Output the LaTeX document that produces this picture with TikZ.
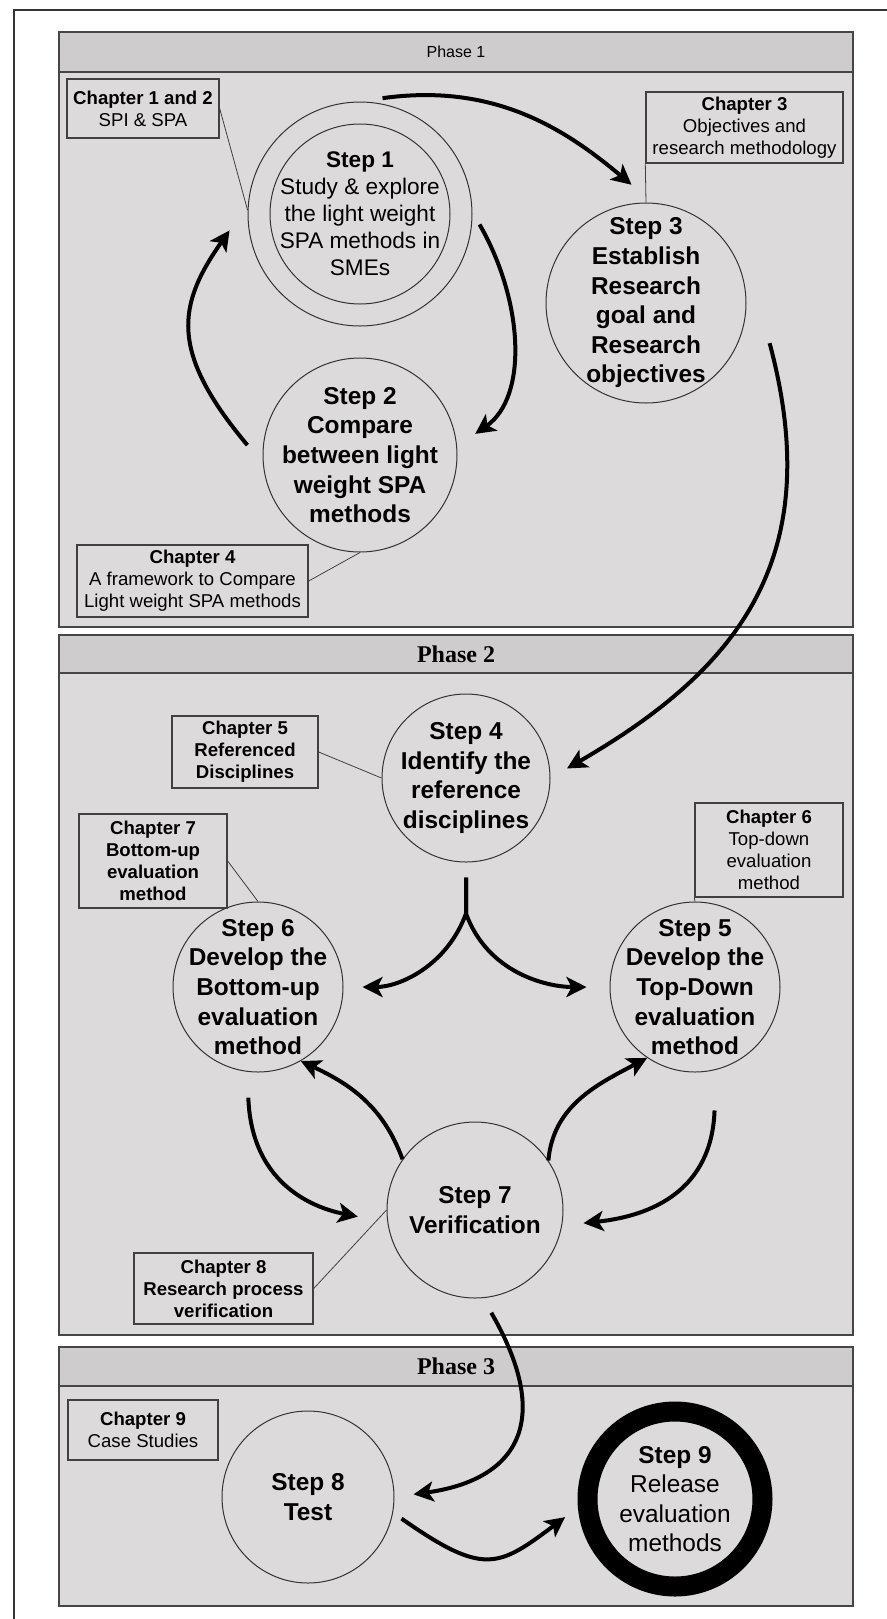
\documentclass[tikz,border=0pt]{standalone}
\usepackage{fontspec}
\setmainfont{Liberation Sans}
\newfontfamily\phasefont{Liberation Serif}
\usepackage{tikz}
\usetikzlibrary{calc,arrows.meta}
\definecolor{panelgray}{RGB}{221,218,219}
\definecolor{headgray}{RGB}{207,204,205}
\definecolor{rimgray}{RGB}{70,70,70}
\tikzstyle{stepnode}=[draw=black!80,circle,line width=0.5pt,inner sep=0pt]
\tikzstyle{steptext}=[align=center,inner sep=0pt,font=\fontsize{12.2}{14.8}\selectfont\bfseries]
\tikzstyle{chapbox}=[draw=black!75,line width=0.7pt,align=center,inner sep=1pt,font=\fontsize{9.3}{11}\selectfont]
\tikzstyle{leader}=[draw=black!75,line width=0.4pt]
\tikzstyle{flow}=[line width=2pt,-{Stealth[length=10pt,width=10pt,inset=2.5pt]}]
\tikzstyle{panel}=[fill=panelgray,draw=rimgray,line width=0.8pt]
\tikzstyle{header}=[fill=headgray,draw=rimgray,line width=0.8pt]

\begin{document}
\begin{tikzpicture}[x=0.5pt,y=0.5pt]
\useasboundingbox (0,0) rectangle (887,-1619);
\fill[white] (0,0) rectangle (887,-1619);
\draw[line width=1pt,black!80] (14,-1619) -- (14,-10) -- (887,-10);
\draw[panel] (59,-32) rectangle (853,-627);
\draw[header] (59,-32) rectangle (853,-72);
\draw[panel] (59,-635) rectangle (853,-1335);
\draw[header] (59,-635) rectangle (853,-673);
\draw[panel] (59,-1347) rectangle (853,-1606);
\draw[header] (59,-1347) rectangle (853,-1386);
\draw (456,-52) node [font=\fontsize{8}{9}\selectfont] (ph1) {Phase 1};
\draw (456,-654) node [font=\phasefont\bfseries\fontsize{12}{14}\selectfont] (ph2) {Phase 2};
\draw (456,-1366) node [font=\phasefont\bfseries\fontsize{12}{14}\selectfont] (ph3) {Phase 3};
\draw (360,-214) node [stepnode,minimum size=112pt] (s1) {};
\draw (s1) node [stepnode,minimum size=90pt] (s1in) {};
\draw (360,-455) node [stepnode,minimum size=97pt] (s2) {};
\draw (646,-303) node [stepnode,minimum size=100pt] (s3) {};
\draw (466,-778) node [stepnode,minimum size=84pt] (s4) {};
\draw (695,-987) node [stepnode,minimum size=85pt] (s5) {};
\draw (258,-987) node [stepnode,minimum size=85pt] (s6) {};
\draw (475,-1210) node [stepnode,minimum size=88pt] (s7) {};
\draw (308,-1497) node [stepnode,minimum size=86pt] (s8) {};
\draw (675,-1499) node [stepnode,draw=black,line width=10pt,minimum size=87.5pt] (s9) {};
\draw (s1) node [steptext,font=\fontsize{11.3}{13.5}\selectfont] (t1) {\textbf{Step 1}\\Study \& explore\\the light weight\\SPA methods in\\SMEs};
\draw (s2) node [steptext] (t2) {Step 2\\Compare\\between light\\weight SPA\\methods};
\draw (s3) node [steptext] (t3) {Step 3\\Establish\\Research\\goal and\\Research\\objectives};
\draw (s4) node [steptext] (t4) {Step 4\\Identify the\\reference\\disciplines};
\draw (s5) node [steptext] (t5) {Step 5\\Develop the\\Top-Down\\evaluation\\method};
\draw (s6) node [steptext] (t6) {Step 6\\Develop the\\Bottom-up\\evaluation\\method};
\draw (s7) node [steptext] (t7) {Step 7\\Verification};
\draw (s8) node [steptext] (t8) {Step 8\\Test};
\draw (s9) node [steptext,font=\fontsize{12.2}{14.8}\selectfont] (t9) {\textbf{Step 9}\\Release\\evaluation\\methods};
\draw (143,-108.5) node [chapbox,minimum width=76pt,minimum height=29.5pt] (c12) {\textbf{Chapter 1 and 2}\\SPI \& SPA};
\draw (744.5,-127.5) node [chapbox,minimum width=98.5pt,minimum height=35.5pt] (c3) {\textbf{Chapter 3}\\Objectives and\\research methodology};
\draw (192.5,-581) node [chapbox,minimum width=115.5pt,minimum height=36pt] (c4) {\textbf{Chapter 4}\\A framework to Compare\\Light weight SPA methods};
\draw (245,-752) node [chapbox,minimum width=73pt,minimum height=36pt,font=\fontsize{9.3}{11}\selectfont\bfseries] (c5) {Chapter 5\\Referenced\\Disciplines};
\draw (153,-861) node [chapbox,minimum width=74pt,minimum height=47pt,font=\fontsize{9.3}{11}\selectfont\bfseries] (c7) {Chapter 7\\Bottom-up\\evaluation\\method};
\draw (769,-850) node [chapbox,minimum width=74pt,minimum height=47pt] (c6) {\textbf{Chapter 6}\\Top-down\\evaluation\\method};
\draw (223.5,-1288.5) node [chapbox,minimum width=89.5pt,minimum height=35.5pt,font=\fontsize{9.3}{11}\selectfont\bfseries] (c8) {Chapter 8\\Research process\\verification};
\draw (143,-1430) node [chapbox,minimum width=75pt,minimum height=30pt] (c9) {\textbf{Chapter 9}\\Case Studies};
\draw[leader] (c12.east) -- (s1.178);
\draw[leader] (c3.south west) -- (s3.north);
\draw[leader] (c4.east) -- (s2.south);
\draw[leader] (c5.east) -- (s4.west);
\draw[leader] (c7.east) -- (s6.north);
\draw[leader] (c6.south west) -- (s5.north);
\draw[leader] (c8.east) -- (s7.west);
\coordinate (a1) at ($(s1)+(79:118)$);
\coordinate (a2) at ($(s1)+(-5:120)$);
\coordinate (a3) at ($(s2)+(175:113)$);
\coordinate (a4) at ($(s3)+(-18:130)$);
\coordinate (a5) at ($(s4.south)+(0,-15)$);
\coordinate (fork) at ($(s4.south)+(0,-51)$);
\coordinate (a7) at ($(s6)+(-95:111)$);
\coordinate (a9) at ($(s5)+(-81:125)$);
\coordinate (a10) at ($(s7)+(-81:104)$);
\coordinate (a11) at ($(s8)+(-13:96)$);
\draw[flow,shorten >=14pt] (a1) to[out=8,in=140] (s3.86);
\draw[flow,shorten >=11pt] (a2) to[out=-60,in=35] (s2.5);
\draw[flow,shorten >=16pt] (a3) to[out=130,in=-125,looseness=1.3] (s1.175);
\draw[flow,shorten >=9.5pt] (a4) to[out=-75,in=30,out distance=110pt,in distance=110pt] (s4.east);
\draw[flow,shorten >=9.5pt] (a5) -- (fork) to[out=-110,in=0] (s6.east);
\draw[flow,shorten >=11.5pt] (a5) -- (fork) to[out=-70,in=180] (s5.west);
\draw[flow] (s7.145) to[out=110,in=-25] (s6.-60);
\draw[flow,shorten >=15pt] (a7) to[out=-88,in=169,out distance=45pt,in distance=35pt] (s7.188);
\draw[flow] (s7.34) to[out=85,in=-152] (s5.-124);
\draw[flow,shorten >=10.7pt] (a9) to[out=-92,in=6,out distance=40pt,in distance=45pt] (s7.-10);
\draw[flow,shorten >=9.6pt] (a10) to[out=-60,in=8,out distance=65pt,in distance=60pt] (s8.east);
\draw[flow,shorten >=8pt] (a11) to[out=-35,in=-143,out distance=50pt,in distance=50pt] (s9.185);
\end{tikzpicture}
\end{document}
